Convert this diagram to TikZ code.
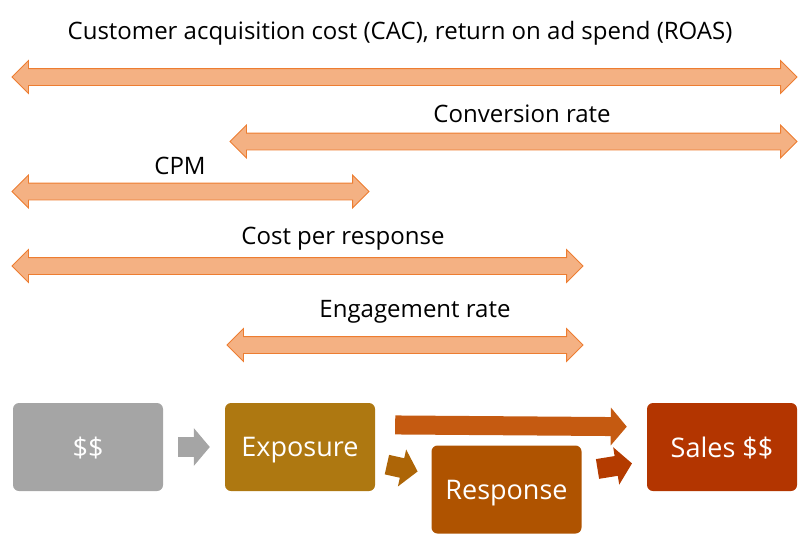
\documentclass[tikz,border=0pt]{standalone}
\usepackage{fontspec}
\setmainfont{Open Sans}
\usetikzlibrary{shapes.arrows,arrows.meta}
\definecolor{spanfill}{HTML}{F4B183}
\definecolor{spanline}{HTML}{ED7D31}
\definecolor{cashgray}{HTML}{A5A5A5}
\definecolor{expocol}{HTML}{AE7811}
\definecolor{respcol}{HTML}{AF5300}
\definecolor{salescol}{HTML}{B33500}
\definecolor{topflow}{HTML}{C55A11}
\definecolor{midflow}{HTML}{AD6507}
\definecolor{endflow}{HTML}{B43B00}
\begin{document}
\begin{tikzpicture}[x=1pt,y=-1pt]
  \tikzstyle{span}=[double arrow, draw=spanline, fill=spanfill, line width=0.8pt,
    inner xsep=0pt, inner ysep=8pt, minimum width=32pt, double arrow head extend=8pt]
  \tikzstyle{spanlabel}=[font=\fontsize{24}{28}\selectfont, inner sep=0pt, text depth=0pt]
  \tikzstyle{stage}=[rectangle, rounded corners=6pt, minimum width=150pt,
    minimum height=88pt, text depth=0pt, text=white, font=\fontsize{27}{32}\selectfont]
  \tikzstyle{flow}=[line width=20pt, -{Triangle[length=16pt,width=37pt]}]
  \useasboundingbox (0,0) rectangle (800,549);

  % metric spans
  \node (CAC)[span, minimum height=785pt] at (404.5,77) {};
  \node (Conv)[span, minimum height=567pt] at (513.5,141.5) {};
  \node (CPM)[span, minimum height=357pt] at (190.5,191.5) {};
  \node (CPR)[span, minimum height=571pt] at (297.5,266) {};
  \node (Eng)[span, minimum height=356pt] at (405,345) {};

  \node (CACtext)[spanlabel] at (400,30) {Customer acquisition cost (CAC), return on ad spend (ROAS)};
  \node (Convtext)[spanlabel] at (522,114) {Conversion rate};
  \node (CPMtext)[spanlabel] at (180,166) {CPM};
  \node (CPRtext)[spanlabel] at (343,236) {Cost per response};
  \node (Engtext)[spanlabel] at (415,309) {Engagement rate};

  % funnel
  \node (Cash)[stage, fill=cashgray] at (88,447) {\$\$};
  \node (Expo)[stage, fill=expocol] at (300,447) {Exposure};
  \node (Resp)[stage, fill=respcol] at (506.5,489.5) {Response};
  \node (Sales)[stage, fill=salescol] at (722,447) {Sales \$\$};

  \draw[flow, cashgray, shorten <=15pt, shorten >=15pt] (Cash) -- (Expo);
  \draw[flow, topflow, line width=19pt, shorten <=20pt, shorten >=20pt]
    ([yshift=-22pt]Expo.north east) -- ([yshift=-24pt]Sales.north west);
  \draw[flow, midflow, shorten <=12pt, shorten >=14pt]
    ([yshift=-15pt]Expo.east) -- ([yshift=15pt]Resp.west);
  \draw[flow, endflow, shorten <=16pt, shorten >=15pt]
    ([yshift=18pt]Resp.east) -- ([yshift=-14pt]Sales.west);
\end{tikzpicture}
\end{document}
